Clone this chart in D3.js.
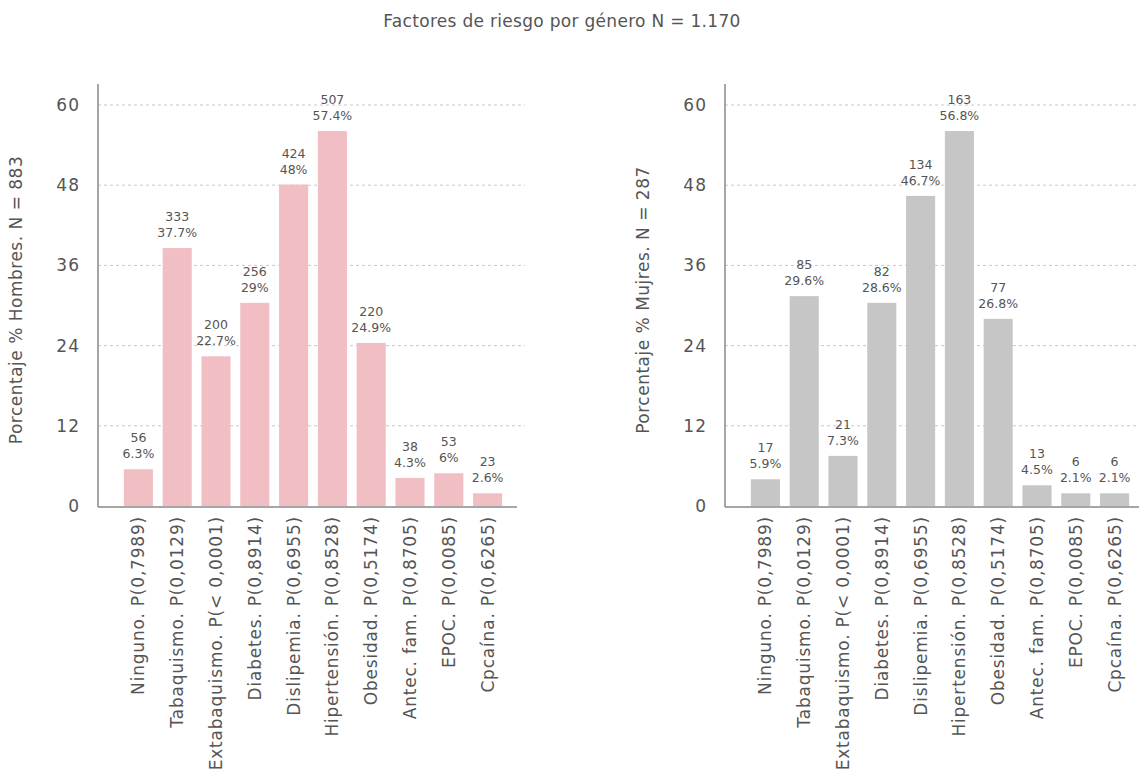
<!DOCTYPE html>
<html>
<head>
<meta charset="utf-8">
<script src="https://cdn.jsdelivr.net/npm/d3@7"></script>
<style>
  body { margin: 0; background: #fff; }
  svg { font-family: "DejaVu Sans", sans-serif; }
</style>
</head>
<body>
<script>
// categorias (eje x)
var categories = ["Ninguno. P(0,7989)", "Tabaquismo. P(0,0129)", "Extabaquismo. P(< 0,0001)",
  "Diabetes. P(0,8914)", "Dislipemia. P(0,6955)", "Hipertensión. P(0,8528)",
  "Obesidad. P(0,5174)", "Antec. fam. P(0,8705)", "EPOC. P(0,0085)", "Cpcaína. P(0,6265)"];

// alturas de barra
var hombresBar = [5.5, 38.6, 22.4, 30.4, 48.1, 56.1, 24.4, 4.2, 4.9, 1.9];
var hombresN = ["56", "333", "200", "256", "424", "507", "220", "38", "53", "23"];
var hombresPct = ["6.3%", "37.7%", "22.7%", "29%", "48%", "57.4%", "24.9%", "4.3%", "6%", "2.6%"];

var mujeresBar = [4.0, 31.4, 7.5, 30.4, 46.4, 56.1, 28.0, 3.1, 1.9, 1.9];
var mujeresN = ["17", "85", "21", "82", "134", "163", "77", "13", "6", "6"];
var mujeresPct = ["5.9%", "29.6%", "7.3%", "28.6%", "46.7%", "56.8%", "26.8%", "4.5%", "2.1%", "2.1%"];

var yTicks = [0, 12, 24, 36, 48, 60];

var width = 1139, height = 774;
var svg = d3.select("body").append("svg")
  .attr("width", width)
  .attr("height", height);

svg.append("text")
  .attr("x", 562)
  .attr("y", 27)
  .attr("text-anchor", "middle")
  .style("font-size", "17px")
  .style("letter-spacing", "0.3px")
  .style("fill", "#555")
  .text("Factores de riesgo por género N = 1.170");

var y = d3.scaleLinear().domain([0, 60]).range([506, 105]);

var drawPanel = function(x0, bars, counts, pcts, color, title){
  var g = svg.append("g");
  var x = d3.scaleBand()
    .domain(categories)
    .range([x0 + 21, x0 + 409])
    .paddingInner(0.25)
    .paddingOuter(0.125);

  // grid
  g.selectAll(".grid")
    .data(yTicks.slice(1))
    .enter()
    .append("line")
    .attr("x1", x0)
    .attr("x2", x0 + 427)
    .attr("y1", function(d){ return y(d); })
    .attr("y2", function(d){ return y(d); })
    .style("stroke", "#c8c8c8")
    .style("stroke-width", 1)
    .style("stroke-dasharray", "3,3");

  // barras
  g.selectAll(".bar")
    .data(bars)
    .enter()
    .append("rect")
    .attr("x", function(d, i){ return x(categories[i]); })
    .attr("y", function(d){ return y(d); })
    .attr("width", x.bandwidth())
    .attr("height", function(d){ return y(0) - y(d); })
    .style("fill", color);

  // etiquetas
  var lbl = g.selectAll(".lbl")
    .data(bars)
    .enter()
    .append("text")
    .attr("text-anchor", "middle")
    .style("font-size", "12.5px")
    .style("fill", "#555");
  lbl.append("tspan")
    .attr("x", function(d, i){ return x(categories[i]) + x.bandwidth() / 2; })
    .attr("y", function(d){ return y(d) - 27; })
    .text(function(d, i){ return counts[i]; });
  lbl.append("tspan")
    .attr("x", function(d, i){ return x(categories[i]) + x.bandwidth() / 2; })
    .attr("y", function(d){ return y(d) - 11; })
    .text(function(d, i){ return pcts[i]; });

  // ejes
  var yAxis = g.append("g")
    .attr("transform", "translate(" + x0 + ",0)")
    .call(d3.axisLeft(y).tickValues(yTicks).tickSize(0).tickPadding(18));
  yAxis.select(".domain").remove();
  yAxis.selectAll("text")
    .style("font-size", "17px")
    .style("letter-spacing", "1px")
    .style("fill", "#555")
    .style("font-family", "DejaVu Sans, sans-serif");

  g.append("line")
    .attr("x1", x0).attr("x2", x0)
    .attr("y1", 84).attr("y2", 507)
    .style("stroke", "#888").style("stroke-width", 1.5);
  g.append("line")
    .attr("x1", x0).attr("x2", x0 + 419)
    .attr("y1", 507).attr("y2", 507)
    .style("stroke", "#888").style("stroke-width", 1.5);

  var xAxis = g.append("g")
    .attr("transform", "translate(0,507)")
    .call(d3.axisBottom(x).tickSize(0).tickPadding(0));
  xAxis.select(".domain").remove();
  xAxis.selectAll("text")
    .attr("transform", "rotate(-90)")
    .attr("x", -9)
    .attr("y", 0)
    .attr("dy", "0.35em")
    .attr("text-anchor", "end")
    .style("font-size", "17px")
    .style("letter-spacing", "0.8px")
    .style("fill", "#555")
    .style("font-family", "DejaVu Sans, sans-serif");

  svg.append("text")
    .attr("transform", "translate(" + (x0 - 82) + ",300) rotate(-90)")
    .attr("text-anchor", "middle")
    .attr("dy", "0.35em")
    .style("font-size", "17px")
    .style("letter-spacing", "0.5px")
    .style("fill", "#555")
    .text(title);
};

drawPanel(98, hombresBar, hombresN, hombresPct, "#f1bec3", "Porcentaje % Hombres. N = 883");
drawPanel(725, mujeresBar, mujeresN, mujeresPct, "#c6c6c6", "Porcentaje % Mujres. N = 287");
</script>
</body>
</html>
